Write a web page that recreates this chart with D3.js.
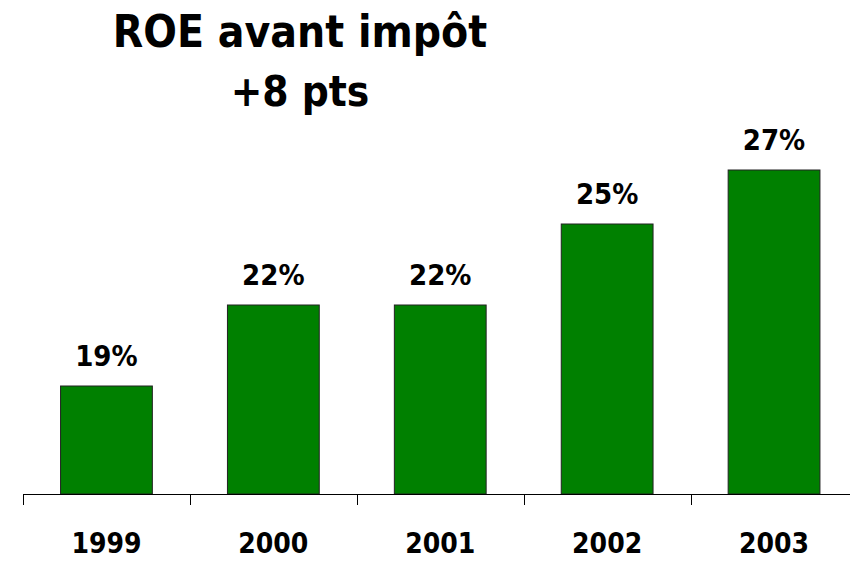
<!DOCTYPE html>
<html><head><meta charset="utf-8">
<script src="https://cdn.jsdelivr.net/npm/d3@7"></script>
<style>body{margin:0;background:#fff}svg{display:block}text{font-family:"DejaVu Sans",sans-serif;font-weight:bold;font-stretch:condensed}</style>
</head><body>
<svg id="chart" width="850" height="561"></svg>
<script>
const categories = ["1999", "2000", "2001", "2002", "2003"];
const values = [19, 22, 22, 25, 27];
const valueLabels = ["19%", "22%", "22%", "25%", "27%"];
const titleLines = ["ROE avant impôt", "+8 pts"];

const svg = d3.select("#chart");
const x = d3.scaleBand().domain(categories).range([23, 857.5]).paddingInner(0.45).paddingOuter(0.225);
const y = d3.scaleLinear().domain([15, 27]).range([494, 170]);
const xb = d3.scaleBand().domain(categories).range([23, 857.5]);

svg.selectAll("rect.bar").data(values).join("rect")
  .attr("class", "bar")
  .attr("x", (d, i) => x(categories[i]))
  .attr("width", x.bandwidth())
  .attr("y", d => y(d))
  .attr("height", d => y(15) - y(d))
  .attr("fill", "#008000")
  .attr("stroke", "#222")
  .attr("stroke-width", 1);

svg.selectAll("text.val").data(values).join("text")
  .attr("class", "val")
  .attr("x", (d, i) => x(categories[i]) + x.bandwidth() / 2)
  .attr("y", d => y(d) - 20)
  .attr("text-anchor", "middle")
  .attr("font-size", 29)
  .attr("fill", "#000")
  .text((d, i) => valueLabels[i]);

// axis
const ax = svg.append("g");
ax.append("line").attr("x1", 23).attr("x2", 857.5).attr("y1", 494.5).attr("y2", 494.5).attr("stroke", "#000");
const bounds = categories.map(c => xb(c)).concat([xb.range()[1]]);
ax.selectAll("line.tick").data(bounds).join("line")
  .attr("class", "tick")
  .attr("x1", d => Math.round(d) + 0.5).attr("x2", d => Math.round(d) + 0.5)
  .attr("y1", 494).attr("y2", 505).attr("stroke", "#000");
ax.selectAll("text").data(categories).join("text")
  .attr("x", d => xb(d) + xb.bandwidth() / 2)
  .attr("y", 553)
  .attr("text-anchor", "middle")
  .attr("font-size", 28)
  .text(d => d);

svg.selectAll("text.title").data(titleLines).join("text")
  .attr("class", "title")
  .attr("x", 300)
  .attr("y", (d, i) => 47 + i * 59)
  .attr("text-anchor", "middle")
  .attr("font-size", (d, i) => i === 0 ? 44 : 42)
  .text(d => d);
</script>
</body></html>
